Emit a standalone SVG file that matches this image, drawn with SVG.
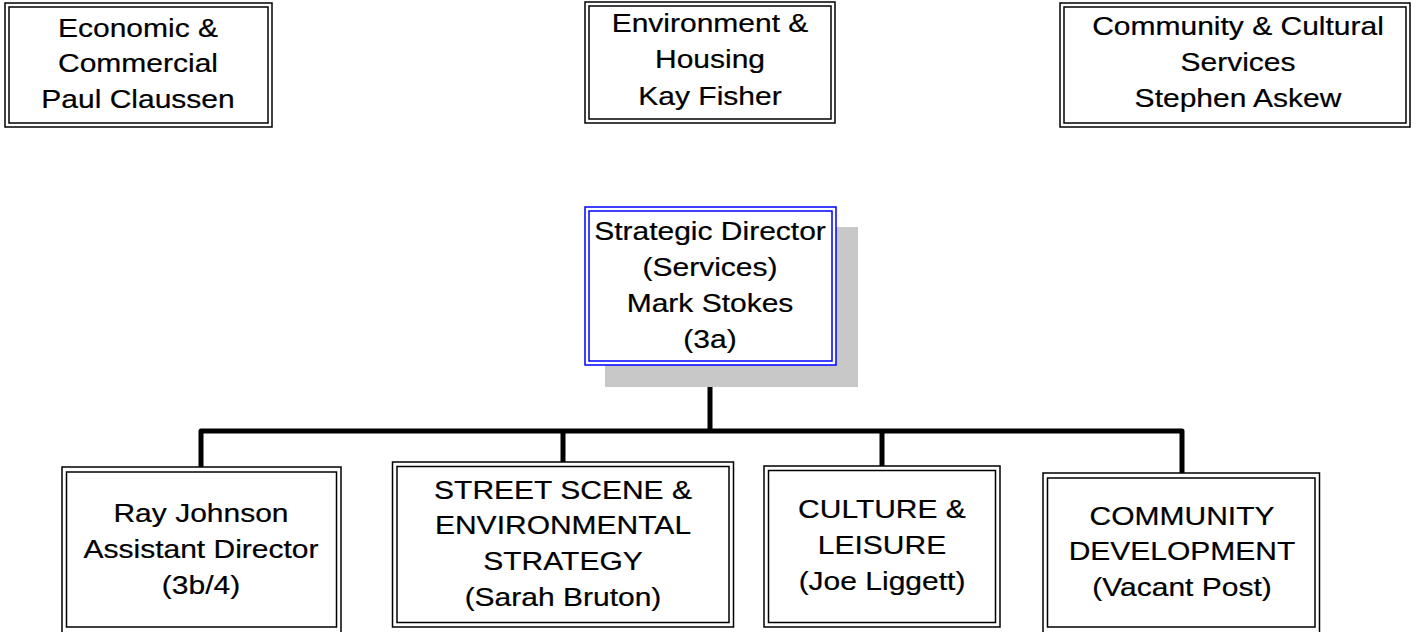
<svg xmlns="http://www.w3.org/2000/svg" width="1416" height="632" viewBox="0 0 1416 632">
<style>
.o{fill:#fff;stroke:#000;stroke-width:1.5}
.i{fill:none;stroke:#000;stroke-width:1.5}
.ob{fill:#fff;stroke:#0000ff;stroke-width:1.5}
.ib{fill:none;stroke:#0000ff;stroke-width:1.5}
.sh{fill:#c8c8c8}
.t{font-family:"Liberation Sans",Arial,sans-serif;font-size:25px;text-anchor:middle;fill:#000;stroke:#000;stroke-width:0.2}
.c{fill:none;stroke:#000;stroke-width:5;stroke-linejoin:round;stroke-linecap:butt}
</style>
<rect width="1416" height="632" fill="#fff"/>
<g id="econ">
<rect class="o" x="5" y="3" width="267" height="124"/>
<rect class="i" x="9" y="7" width="259" height="116"/>
<g transform="translate(138 0) scale(1.2 1)"><text class="t"><tspan x="0" y="37">Economic &amp;</tspan><tspan x="0" y="72">Commercial</tspan><tspan x="0" y="108">Paul Claussen</tspan></text></g>
</g>
<g id="env">
<rect class="o" x="585" y="2" width="250" height="121"/>
<rect class="i" x="589" y="6" width="242" height="113"/>
<g transform="translate(710 0) scale(1.2 1)"><text class="t"><tspan x="0" y="32">Environment &amp;</tspan><tspan x="0" y="68">Housing</tspan><tspan x="0" y="105">Kay Fisher</tspan></text></g>
</g>
<g id="comm">
<rect class="o" x="1060" y="3" width="350" height="124"/>
<rect class="i" x="1064" y="7" width="342" height="116"/>
<g transform="translate(1238 0) scale(1.2 1)"><text class="t"><tspan x="0" y="35">Community &amp; Cultural</tspan><tspan x="0" y="71">Services</tspan><tspan x="0" y="107">Stephen Askew</tspan></text></g>
</g>
<g id="connectors">
<path class="c" d="M710 365 V431"/>
<path class="c" d="M201 467 V431 H1182 V473"/>
<path class="c" d="M563 431 V462"/>
<path class="c" d="M882 431 V466"/>
</g>
<g id="director">
<rect class="sh" x="605" y="227" width="253" height="160"/>
<rect class="ob" x="585" y="207" width="251" height="158"/>
<rect class="ib" x="589" y="211" width="243" height="150"/>
<g transform="translate(710 0) scale(1.2 1)"><text class="t"><tspan x="0" y="240">Strategic Director</tspan><tspan x="0" y="276">(Services)</tspan><tspan x="0" y="312">Mark Stokes</tspan><tspan x="0" y="348">(3a)</tspan></text></g>
</g>
<g id="ray">
<rect class="o" x="62" y="467" width="279" height="170"/>
<rect class="i" x="66.5" y="472" width="270" height="155"/>
<g transform="translate(201 0) scale(1.2 1)"><text class="t"><tspan x="0" y="522">Ray Johnson</tspan><tspan x="0" y="558">Assistant Director</tspan><tspan x="0" y="594">(3b/4)</tspan></text></g>
</g>
<g id="street">
<rect class="o" x="392.5" y="462" width="341" height="165"/>
<rect class="i" x="397" y="466.5" width="332" height="156"/>
<g transform="translate(563 0) scale(1.2 1)"><text class="t"><tspan x="0" y="499">STREET SCENE &amp;</tspan><tspan x="0" y="534">ENVIRONMENTAL</tspan><tspan x="0" y="570">STRATEGY</tspan><tspan x="0" y="606">(Sarah Bruton)</tspan></text></g>
</g>
<g id="culture">
<rect class="o" x="764" y="466" width="236" height="161"/>
<rect class="i" x="768.5" y="470.5" width="227" height="152"/>
<g transform="translate(882 0) scale(1.2 1)"><text class="t"><tspan x="0" y="518">CULTURE &amp;</tspan><tspan x="0" y="554">LEISURE</tspan><tspan x="0" y="590">(Joe Liggett)</tspan></text></g>
</g>
<g id="commdev">
<rect class="o" x="1043" y="473" width="276.5" height="165"/>
<rect class="i" x="1047.5" y="478" width="267.5" height="149"/>
<g transform="translate(1182 0) scale(1.2 1)"><text class="t"><tspan x="0" y="525">COMMUNITY</tspan><tspan x="0" y="560">DEVELOPMENT</tspan><tspan x="0" y="596">(Vacant Post)</tspan></text></g>
</g>
</svg>
